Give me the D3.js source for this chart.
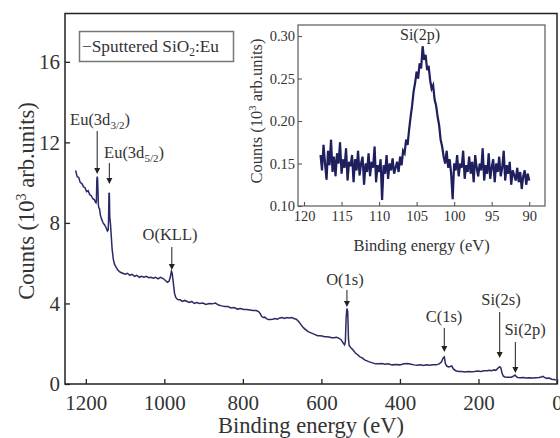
<!DOCTYPE html>
<html><head><meta charset="utf-8">
<script src="https://cdn.jsdelivr.net/npm/d3@7"></script>
<style>body{margin:0;background:#fff}svg{display:block}svg text{font-family:"Liberation Serif","Times New Roman","DejaVu Serif",serif !important;fill:#333}</style>
</head><body><svg id="c" width="560" height="438"></svg>
<script>
// Main survey spectrum: binding energy (eV) and counts (10^3 arb.units)
const mainEnergy = [1226,1222,1218,1214,1210,1206,1202,1198,1194,1190,1186,1182,1178,1176,1174,1173,1172,1171,1170,1169,1168,1167,1165,1163,1160,1156,1152,1148,1145,1143,1142,1141,1140,1139,1137,1135,1133,1130,1127,1123,1118,1112,1106,1100,1094,1088,1082,1076,1070,1064,1058,1052,1046,1040,1034,1028,1022,1016,1010,1004,998,992,988,985,982,980,977,974,971,966,960,954,948,942,936,930,924,918,910,902,894,886,878,870,862,854,846,838,830,822,814,806,798,790,782,774,766,760,756,752,748,744,740,735,730,724,718,712,706,700,694,688,682,676,670,664,658,652,646,640,634,628,622,616,610,604,598,592,586,580,574,568,562,556,550,545,541,539,537,535,533,531,529,525,520,514,508,502,496,490,484,478,470,462,454,446,438,430,420,410,400,390,380,372,364,356,348,340,332,324,316,308,300,294,290,287,284,280,276,272,268,264,258,250,242,234,226,218,210,202,194,186,178,172,166,160,156,152,149,146,143,140,137,133,128,122,116,110,107,104,100,94,86,78,70,62,54,46,40,36,32,26,20,14,8,3];
const mainCounts = [10.6,10.3,10.25,10.0,9.95,9.8,9.75,9.55,9.6,9.4,9.35,9.2,9.15,9.05,9.0,9.1,10.1,10.3,10.2,9.6,8.9,8.75,8.7,8.4,8.2,8.0,7.9,7.75,7.6,7.65,8.2,9.5,9.45,8.3,7.9,7.3,6.7,6.2,5.95,5.8,5.65,5.55,5.5,5.45,5.5,5.4,5.45,5.35,5.4,5.3,5.35,5.3,5.35,5.28,5.3,5.25,5.3,5.22,5.3,5.25,5.15,5.05,5.1,5.3,5.6,5.5,5.0,4.5,4.3,4.2,4.18,4.1,4.15,4.1,4.05,4.1,4.0,4.05,4.0,4.02,3.95,4.0,3.98,4.02,3.92,3.88,3.85,3.85,3.78,3.8,3.72,3.75,3.7,3.7,3.68,3.65,3.65,3.6,3.5,3.35,3.3,3.32,3.25,3.2,3.2,3.22,3.25,3.22,3.28,3.3,3.25,3.3,3.28,3.3,3.25,3.22,3.1,2.95,2.8,2.7,2.6,2.55,2.5,2.45,2.4,2.4,2.38,2.35,2.35,2.33,2.3,2.3,2.32,2.28,2.2,2.05,1.95,2.1,3.3,3.75,3.6,2.2,1.9,1.8,1.7,1.55,1.45,1.35,1.3,1.2,1.15,1.1,1.05,1.0,1.0,1.02,0.98,1.0,0.95,0.97,0.95,1.0,1.02,0.98,0.95,0.93,0.95,0.92,0.95,0.93,0.95,0.95,1.0,1.1,1.3,1.35,1.0,0.88,0.85,0.87,0.9,0.75,0.66,0.62,0.62,0.6,0.62,0.61,0.62,0.64,0.62,0.66,0.66,0.68,0.66,0.7,0.68,0.75,0.82,0.86,0.8,0.55,0.4,0.35,0.33,0.34,0.34,0.4,0.45,0.38,0.32,0.31,0.32,0.3,0.31,0.3,0.31,0.32,0.35,0.38,0.33,0.28,0.3,0.24,0.22,0.2];
const mainXTicks = [1200,1000,800,600,400,200,0];
const mainYTicks = [0,4,8,12,16];
const peakLabels = ["Eu(3d|3/2|)","Eu(3d|5/2|)","O(KLL)","O(1s)","C(1s)","Si(2s)","Si(2p)"];
const peakEnergy = [1171,1140,981,535,287,146,106];
const legendLabel = "Sputtered SiO|2|:Eu";

// Inset: Si(2p) high-resolution spectrum, 117.8 eV to 90.0 eV in 0.2 eV steps
const insetStart = 117.8, insetStep = 0.2;
const insetCounts = [0.160,0.142,0.172,0.150,0.131,0.165,0.148,0.178,0.140,0.158,
0.135,0.162,0.150,0.175,0.138,0.155,0.145,0.168,0.130,0.152,
0.147,0.160,0.128,0.155,0.142,0.165,0.136,0.150,0.158,0.125,
0.150,0.140,0.162,0.135,0.152,0.145,0.170,0.128,0.148,0.140,
0.155,0.107,0.148,0.138,0.160,0.132,0.150,0.142,0.156,0.138,
0.145,0.152,0.140,0.158,0.148,0.165,0.162,0.178,0.172,0.190,
0.205,0.218,0.235,0.245,0.258,0.250,0.268,0.262,0.288,0.272,
0.278,0.260,0.265,0.248,0.238,0.242,0.225,0.218,0.205,0.195,
0.178,0.170,0.158,0.150,0.165,0.145,0.155,0.138,0.108,0.150,
0.142,0.160,0.135,0.150,0.145,0.165,0.132,0.148,0.140,0.158,
0.138,0.152,0.128,0.160,0.145,0.135,0.150,0.142,0.168,0.130,
0.148,0.138,0.162,0.132,0.145,0.155,0.128,0.150,0.140,0.158,
0.135,0.145,0.165,0.130,0.148,0.138,0.152,0.125,0.142,0.136,
0.130,0.145,0.128,0.140,0.120,0.135,0.142,0.125,0.138,0.130];
const insetEnergy = insetCounts.map((_, i) => +(insetStart - i * insetStep).toFixed(1));
const insetXTicks = [120,115,110,105,100,95,90];
const insetYTicks = [0.10,0.15,0.20,0.25,0.30];

const svg = d3.select("#c");
const M = {l:65, r:557, t:13.5, b:384};
const x = d3.scaleLinear().domain([1253,0]).range([M.l, M.r]);
const y = d3.scaleLinear().domain([0,18.4]).range([M.b, M.t]);
const lineColor = "#2a2a66";

function richText(sel, str, subSize) {
  const parts = str.split("|");
  parts.forEach((p, i) => {
    if (!p) return;
    const t = sel.append("tspan").text(p);
    if (i % 2 === 1) t.attr("font-size", subSize).attr("dy", 4);
    else if (i > 0) t.attr("dy", -4);
  });
}

svg.append("rect").attr("x",M.l).attr("y",M.t).attr("width",M.r-M.l).attr("height",M.b-M.t)
  .attr("fill","none").attr("stroke","#222").attr("stroke-width",1.5);

const xAxis = svg.append("g").attr("transform",`translate(0,${M.b})`)
  .call(d3.axisBottom(x).tickValues(mainXTicks).tickFormat(d3.format("d")).tickSizeInner(-5).tickSizeOuter(0).tickPadding(11));
const yAxis = svg.append("g").attr("transform",`translate(${M.l},0)`)
  .call(d3.axisLeft(y).tickValues(mainYTicks).tickSizeInner(-5).tickSizeOuter(0).tickPadding(5));
[xAxis,yAxis].forEach(a=>{
  a.select(".domain").remove();
  a.selectAll("line").attr("stroke","#222").attr("stroke-width",1.3);
  a.selectAll("text").attr("font-size",21).attr("fill","#333");
});

svg.append("path").datum(mainEnergy.map((e,i)=>[e,mainCounts[i]]))
  .attr("fill","none").attr("stroke",lineColor).attr("stroke-width",1.5)
  .attr("d", d3.line().x(d=>x(d[0])).y(d=>y(d[1])));

svg.append("text").attr("x",(M.l+M.r)/2).attr("y",433).attr("text-anchor","middle")
  .attr("font-size",22.5).text("Binding energy (eV)");
const yt = svg.append("text").attr("transform","translate(34,201) rotate(-90)").attr("text-anchor","middle")
  .attr("font-size",22.5);
yt.append("tspan").text("Counts (10");
yt.append("tspan").text("3").attr("font-size",14).attr("dy",-8);
yt.append("tspan").text(" arb.units)").attr("dy",8);

svg.append("rect").attr("x",79.5).attr("y",31.5).attr("width",154).attr("height",30)
  .attr("fill","#fff").attr("stroke","#777").attr("stroke-width",1.5);
const lg = svg.append("text").attr("x",82).attr("y",52).attr("font-size",17.3);
lg.append("tspan").text("\u2212");
richText(lg, legendLabel, 11.5);

const ann = [
  {lx:100, ly:125, y0:131, y1:174},
  {lx:134, ly:158, y0:163, y1:184},
  {lx:170, ly:240, y0:247, y1:270},
  {lx:345, ly:285, y0:290, y1:307},
  {lx:444, ly:322, y0:328, y1:352},
  {lx:501, ly:305, y0:312, y1:358},
  {lx:525, ly:335, y0:342, y1:373}
];
peakLabels.forEach((lab,i)=>{
  const a = ann[i];
  const ax = x(peakEnergy[i]);
  const t = svg.append("text").attr("x",a.lx).attr("y",a.ly).attr("text-anchor","middle").attr("font-size",16.5);
  richText(t, lab, 11);
  svg.append("line").attr("x1",ax).attr("x2",ax).attr("y1",a.y0).attr("y2",a.y1-5)
    .attr("stroke","#333").attr("stroke-width",1.1);
  svg.append("path").attr("d",`M${ax-3},${a.y1-6}L${ax+3},${a.y1-6}L${ax},${a.y1}Z`).attr("fill","#222");
});

const I = {l:298, r:545, t:25, b:206};
const xi = d3.scaleLinear().domain([120.8,87.9]).range([I.l,I.r]);
const yi = d3.scaleLinear().domain([0.10,0.313]).range([I.b,I.t]);
svg.append("rect").attr("x",I.l).attr("y",I.t).attr("width",I.r-I.l).attr("height",I.b-I.t)
  .attr("fill","#fff").attr("stroke","#666").attr("stroke-width",1.3);
const xia = svg.append("g").attr("transform",`translate(0,${I.b})`)
  .call(d3.axisBottom(xi).tickValues(insetXTicks).tickFormat(d3.format("d")).tickSizeInner(-4).tickSizeOuter(0).tickPadding(5));
const yia = svg.append("g").attr("transform",`translate(${I.l},0)`)
  .call(d3.axisLeft(yi).tickValues(insetYTicks).tickFormat(d3.format(".2f")).tickSizeInner(-4).tickSizeOuter(0).tickPadding(3));
[xia,yia].forEach(a=>{
  a.select(".domain").remove();
  a.selectAll("line").attr("stroke","#555").attr("stroke-width",1.1);
  a.selectAll("text").attr("font-size",14.5).attr("fill","#333");
});
const iline = d3.line().x(d=>xi(d[0])).y(d=>yi(d[1]));
const idata = insetEnergy.map((e,i)=>[e,insetCounts[i]]);
svg.append("path").datum(idata).attr("fill","none").attr("stroke","#8a8ab8").attr("stroke-width",1).attr("d",iline);
svg.append("path").datum(idata).attr("fill","none").attr("stroke","#1f1f5e").attr("stroke-width",2.2).attr("d",iline);
svg.append("text").attr("x",420).attr("y",40).attr("text-anchor","middle").attr("font-size",16).text("Si(2p)");
svg.append("text").attr("x",(I.l+I.r)/2).attr("y",251).attr("text-anchor","middle").attr("font-size",16.5).text("Binding energy (eV)");
const yit = svg.append("text").attr("transform","translate(262,111) rotate(-90)").attr("text-anchor","middle").attr("font-size",16.5);
yit.append("tspan").text("Counts (10");
yit.append("tspan").text("3").attr("font-size",10.5).attr("dy",-6);
yit.append("tspan").text(" arb.units)").attr("dy",6);
</script></body></html>
